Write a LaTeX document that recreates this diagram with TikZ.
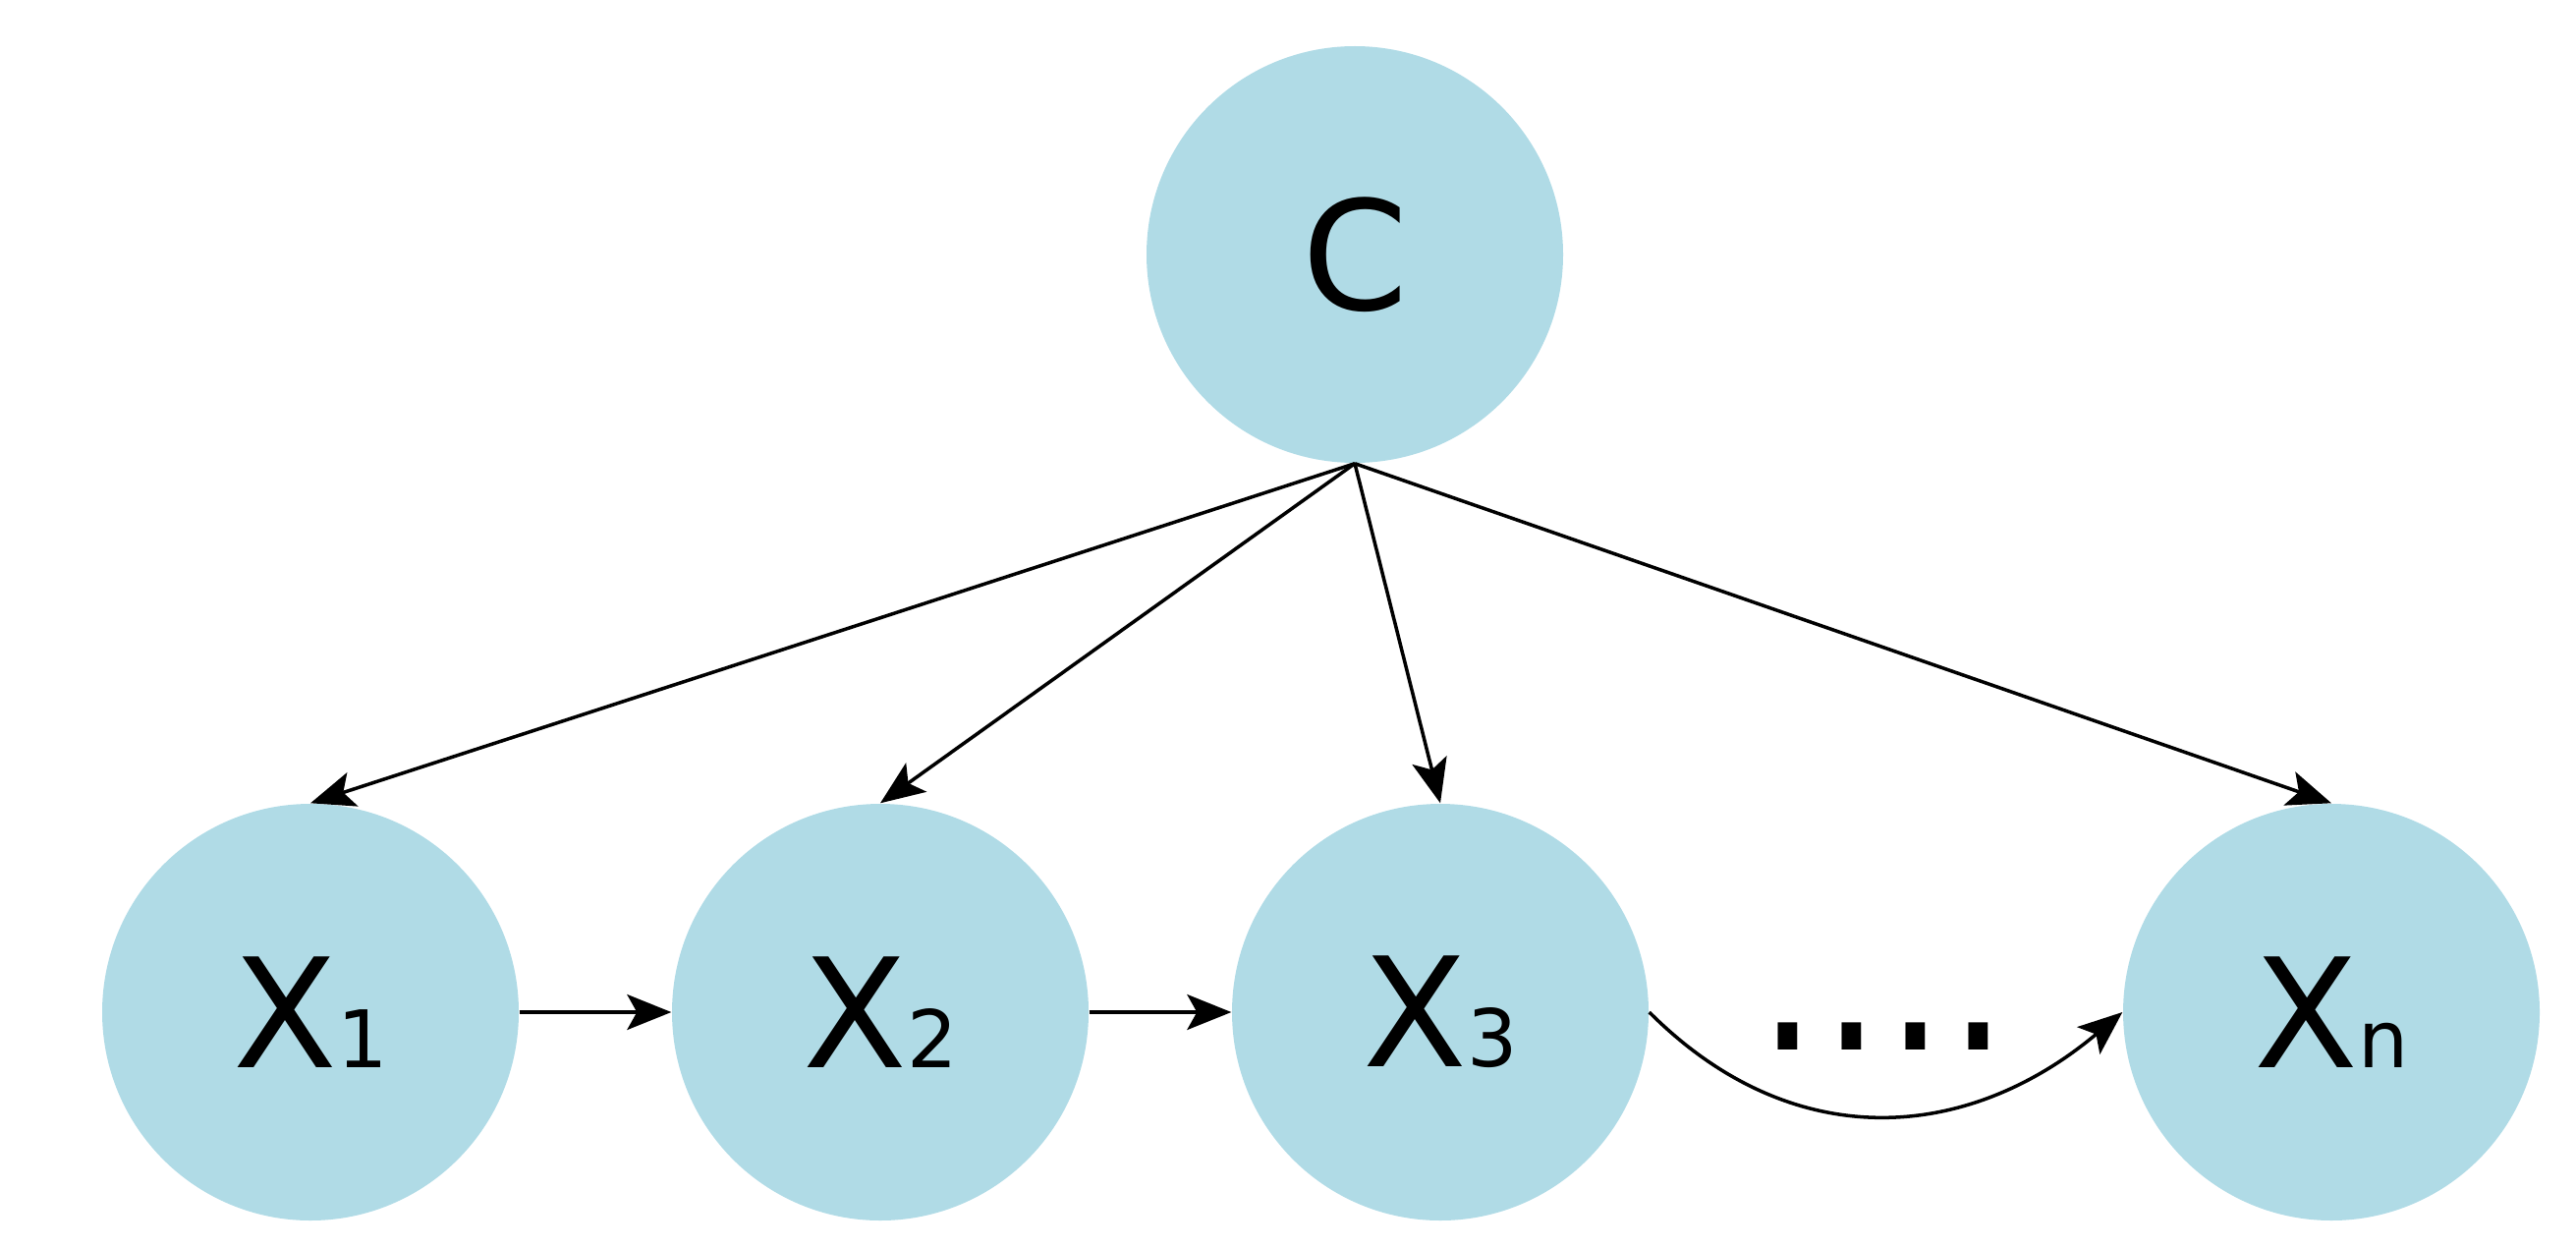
\documentclass[tikz,border=0pt]{standalone}
\usepackage{fontspec}
\setmainfont{DejaVu Sans}
\usepackage{tikz}
\usetikzlibrary{arrows.meta}

\definecolor{nodeblue}{RGB}{176,219,230}

\begin{document}
\begin{tikzpicture}[
    arrow/.style={-{Stealth[length=4.5mm, width=3.6mm, inset=1mm]}, line width=1pt},
    var/.style={circle, fill=nodeblue, draw=none, minimum size=4.24cm, inner sep=0pt, font=\fontsize{44}{50}\selectfont}
]
    \useasboundingbox (0, 0) rectangle (26.22, 12.69);

    % Class node
    \node[var] (C) at (13.79, 10.10) {C};

    % Feature nodes
    \node[var] (X1) at (3.16, 2.39) {X{\fontsize{23}{26}\selectfont 1}};
    \node[var] (X2) at (8.96, 2.39) {X{\fontsize{23}{26}\selectfont 2}};
    \node[var] (X3) at (14.66, 2.39) {X{\fontsize{23}{26}\selectfont 3}};
    \node[var] (Xn) at (23.73, 2.39) {X{\fontsize{23}{26}\selectfont n}};

    % Dots
    \node[font=\fontsize{32}{34}\selectfont\bfseries, yscale=1.3, transform shape] (dots) at (19.17, 2.14) {.\hspace{2.2mm}.\hspace{2.2mm}.\hspace{2.2mm}.};

    % Edges from C
    \draw[arrow] (C.south) -- (X1.north);
    \draw[arrow] (C.south) -- (X2.north);
    \draw[arrow] (C.south) -- (X3.north);
    \draw[arrow] (C.south) -- (Xn.north);

    % Chain edges
    \draw[arrow] (X1.east) -- (X2.west);
    \draw[arrow] (X2.east) -- (X3.west);
    \draw[arrow] (X3.east) to[out=-45, in=-140, looseness=1.1] (Xn.west);

\end{tikzpicture}
\end{document}
